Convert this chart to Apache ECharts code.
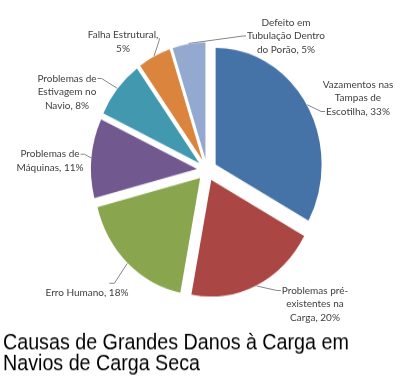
<!DOCTYPE html>
<html><head><meta charset="utf-8">
<script src="https://cdn.jsdelivr.net/npm/echarts@6/dist/echarts.min.js"></script>
<style>
html,body{margin:0;padding:0;background:#fff}
#wrap{position:relative;width:400px;height:382px}
#b,#a{position:absolute;left:0;top:0;width:400px;height:382px}
#a{transform:scaleY(1.1);transform-origin:207px 170px}
</style>
</head><body><div id="wrap"><div id="b"></div><div id="a"></div></div>
<script>
const categories = ["Vazamentos nas Tampas de Escotilha","Problemas pré-existentes na Carga","Erro Humano","Problemas de Máquinas","Problemas de Estivagem no Navio","Falha Estrutural","Defeito em Tubulação Dentro do Porão"];
const values = [33,20,18,11,8,5,5];
const labelTexts = ["Vazamentos nas\nTampas de\nEscotilha, 33%","Problemas pré-\nexistentes na\nCarga, 20%","Erro Humano, 18%","Problemas de\nMáquinas, 11%","Problemas de\nEstivagem no\nNavio, 8%","Falha Estrutural,\n5%","Defeito em\nTubulação Dentro\ndo Porão, 5%"];
const colors = ["#4572A7","#AA4643","#89A54E","#71588F","#4198AF","#DB843D","#93A9CF"];
const title = "Causas de Grandes Danos à Carga em\nNavios de Carga Seca";

// layout settings (not data)
const CX = 207, CY = 170, R = 106, OFFSET = 10, SY = 1.1;
const FONT = 10, LH = 13.5;
const labelSpots = [[358,98],[315,304],[87,293],[50,161],[67,92],[123,42],[286,36]];
const attach = [['left',2,4],['left',0,4],['top',0,5],['right',0,4],['right',0,4],['right',0,0],['left',1,3]];

const mctx = document.createElement('canvas').getContext('2d');
mctx.font = FONT + 'px Lato';
function lineW(s){ return mctx.measureText(s).width; }

const chartB = echarts.init(document.getElementById('b'));
chartB.setOption({
  animation:false,
  series:[{
    type:'pie', center:[CX,CY], radius:R+6, startAngle:90, emphasis:{disabled:true},
    avoidLabelOverlap:false,
    data: categories.map((n,i)=>({name:n,value:values[i],label:{formatter:labelTexts[i]}})),
    itemStyle:{color:'rgba(0,0,0,0)'},
    label:{show:true,position:'outside',fontFamily:'Lato',fontSize:FONT,color:'#404040',lineHeight:LH,align:'center'},
    labelLine:{show:true,length:8,length2:8,lineStyle:{color:'#868686',width:1}},
    labelLayout:function(p){
      const i = p.dataIndex, s = labelSpots[i], a = attach[i];
      const lines = labelTexts[i].split('\n');
      const p0 = p.labelLinePoints[0];
      const dx = p0[0]-CX, dy = p0[1]-CY, d = Math.hypot(dx,dy);
      const ux = dx/d, uy = dy/d;
      const start = [CX + ux*(R+OFFSET+0.5), CY + uy*(R+OFFSET+0.5)*SY];
      const top = s[1] - lines.length*LH/2;
      const ly = top + LH*(a[1]+0.5);
      const w = lineW(lines[a[1]]);
      let end, elbow;
      if (a[0]==='left'){ end=[s[0]-w/2-1, ly]; elbow=[end[0]-a[2], ly]; }
      else if (a[0]==='right'){ end=[s[0]+w/2+1, ly+(a[2]?0:3)]; elbow=[end[0]+a[2], end[1]+(a[2]?0:2)]; }
      else { end=[s[0]+w*0.27, top-3]; elbow=[end[0]+a[2], end[1]]; }
      return {x:s[0],y:s[1],align:'center',verticalAlign:'middle',labelLinePoints:[start,elbow,end]};
    }
  }]
});
const chartA = echarts.init(document.getElementById('a'));
chartA.setOption({
  animation:false,
  color: colors,
  title:{text:title,left:3,top:318,padding:0,textStyle:{fontFamily:'Liberation Sans, Arial',fontWeight:'normal',fontSize:19.7,color:'#000',lineHeight:19.2}},
  series:[{
    type:'pie', center:[CX,CY], radius:R, startAngle:90,
    selectedMode:'multiple', selectedOffset:OFFSET, emphasis:{disabled:true},
    data: categories.map((n,i)=>({name:n,value:values[i],selected:true})),
    label:{show:false}, labelLine:{show:false}
  }]
});
</script></body></html>
